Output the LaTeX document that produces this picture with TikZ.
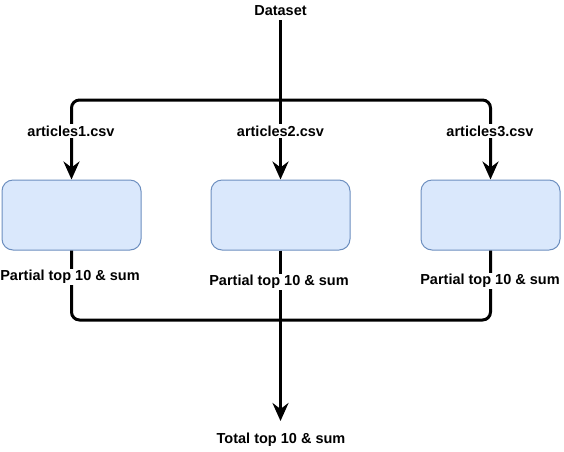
\documentclass[tikz,border=0pt]{standalone}
\usepackage{fontspec}
\setmainfont{Liberation Sans}
\usetikzlibrary{arrows.meta}
\definecolor{boxfill}{HTML}{DAE8FC}
\definecolor{boxline}{HTML}{6C8EBF}
\tikzset{
  procbox/.style={draw=boxline, fill=boxfill, line width=1pt, rounded corners=11pt, minimum width=139pt, minimum height=70pt, inner sep=0pt},
  lbl/.style={font=\fontsize{14.5pt}{16pt}\selectfont\bfseries, fill=white, inner sep=1.5pt, text=black},
  conn/.style={line width=3pt, rounded corners=8pt},
  arr/.style={conn, -{Stealth[length=18pt,width=16pt,inset=6pt]}}
}
\begin{document}
\begin{tikzpicture}[x=1pt,y=-1pt]
\useasboundingbox (0,0) rectangle (564,451);
% boxes
\node[procbox] (b1) at (71.5,215) {};
\node[procbox] (b2) at (280.5,215) {};
\node[procbox] (b3) at (490.5,215) {};
% junctions
\coordinate (ds) at (280.5,20);
\coordinate (top) at (280.5,100);
\coordinate (bot) at (280.5,320);
\coordinate (end) at (280.5,421);
% connectors
\draw[arr] (ds) -- (b2.north);
\draw[arr] (top) -| (b1.north);
\draw[arr] (top) -| (b3.north);
\draw[conn] (b1.south) |- (bot) -| (b3.south);
\draw[arr] (b2.south) -- (end);
% labels
\node[lbl] (dataset) at (280.5,11) {Dataset};
\node[lbl] (l1) at (71,131) {articles1.csv};
\node[lbl] (l2) at (280.5,131) {articles2.csv};
\node[lbl] (l3) at (490,131) {articles3.csv};
\node[lbl] (p1) at (70,277) {Partial top 10 \& sum};
\node[lbl] (p2) at (279,282) {Partial top 10 \& sum};
\node[lbl] (p3) at (490,281) {Partial top 10 \& sum};
\node[lbl] (total) at (281,440) {Total top 10 \& sum};
\end{tikzpicture}
\end{document}
